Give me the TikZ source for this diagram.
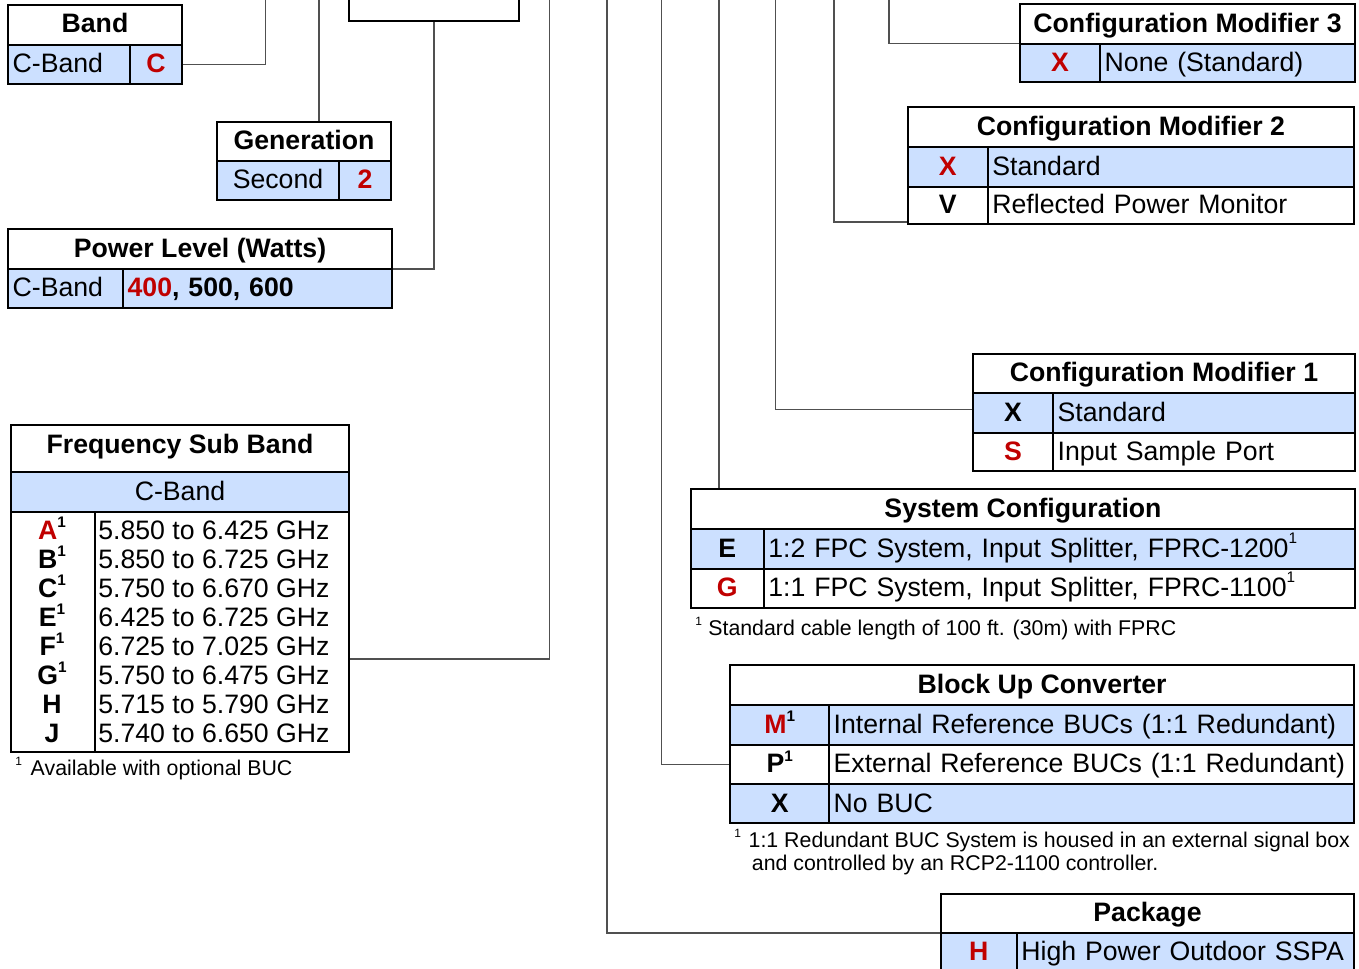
\documentclass[tikz,border=0pt]{standalone}
\usepackage{fontspec}
\setmainfont{Liberation Sans}
\definecolor{bluec}{RGB}{204,224,255}
\definecolor{redc}{RGB}{192,0,0}
\definecolor{connc}{RGB}{80,80,80}
\pgfdeclarelayer{background}
\pgfsetlayers{background,main}
\newcommand\supone{\raisebox{0.44em}{\fontsize{11.5}{13}\selectfont 1}}
\newcommand\supsys{\raisebox{0.52em}{\fontsize{11.5}{13}\selectfont 1}}
\newcommand\fnsup{\raisebox{0.46em}{\fontsize{9}{11}\selectfont 1}}
\tikzset{
  cellbase/.style={draw, line width=1.6pt, inner xsep=3.5pt, inner ysep=0pt, outer sep=0pt,
    text height=14.3pt, text depth=2pt, font=\fontsize{20}{24}\selectfont},
  hdr/.style={font=\fontsize{20}{24}\selectfont\bfseries},
  keyb/.style={font=\fontsize{20}{24}\selectfont\bfseries},
  redkey/.style={font=\fontsize{20}{24}\selectfont\bfseries, text=redc},
  bluefill/.style={fill=bluec},
  txt/.style={inner sep=0pt, font=\fontsize{20}{24}\selectfont},
  fn/.style={inner sep=0pt, font=\fontsize{16}{19}\selectfont},
  conn/.style={draw=connc, line width=1.1pt}
}
% name, x1, y1, x2, y2, options, text
\newcommand\cellC[7]{%
  \pgfmathsetmacro\cw{(#4-#2)*0.75}%
  \pgfmathsetmacro\ch{(#5-#3)*0.75}%
  \node[cellbase, minimum width=\cw pt, minimum height=\ch pt, anchor=north west, #6] (#1) at (#2,#3) {#7};}
\newcommand\cellL[7]{%
  \pgfmathsetmacro\cw{(#4-#2)*0.75}%
  \pgfmathsetmacro\ch{(#5-#3)*0.75}%
  \pgfmathsetmacro\tw{(#4-#2)*0.75-7}%
  \node[cellbase, minimum width=\cw pt, minimum height=\ch pt, text width=\tw pt, align=left, anchor=north west, #6] (#1) at (#2,#3) {\mbox{#7}};}
\begin{document}
\begin{tikzpicture}[x=0.75pt,y=-0.75pt]
\useasboundingbox (0,0) rectangle (1359,968);
\clip (0,0) rectangle (1359,968);

% top box (cut off)
\cellC{topbox}{348.7}{-30}{519}{20.7}{}{}

% Band
\cellC{bandH}{8}{4.7}{182}{44.7}{hdr}{Band}
\cellL{bandN}{8}{44.7}{130}{84}{bluefill}{C-Band}
\cellC{bandC}{130}{44.7}{182}{84}{bluefill,redkey}{C}

% Generation
\cellC{genH}{217}{122}{391}{161}{hdr}{Generation}
\cellC{genN}{217}{161}{339}{200}{bluefill}{Second}
\cellC{genC}{339}{161}{391}{200}{bluefill,redkey}{2}

% Power Level
\cellC{powH}{8}{229}{392}{269}{hdr}{Power Level (Watts)}
\cellL{powN}{8}{269}{123}{308}{bluefill}{C-Band}
\cellL{powV}{123}{269}{392}{308}{bluefill,keyb}{\textcolor{redc}{400}, 500, 600}

% Frequency Sub Band
\cellC{fsbH}{11}{425}{349}{472}{hdr,text depth=6.75pt}{Frequency Sub Band}
\cellC{fsbB}{11}{472}{349}{512}{bluefill}{C-Band}
\cellC{fsbL}{11}{512}{95}{752}{}{}
\cellC{fsbF}{95}{512}{349}{752}{}{}
\node[txt, anchor=base, font=\fontsize{20}{24}\selectfont\bfseries] (fl1) at (52,539) {\textcolor{redc}{A}\supone};
\node[txt, anchor=base, font=\fontsize{20}{24}\selectfont\bfseries] (fl2) at (52,568.1) {B\supone};
\node[txt, anchor=base, font=\fontsize{20}{24}\selectfont\bfseries] (fl3) at (52,597.1) {C\supone};
\node[txt, anchor=base, font=\fontsize{20}{24}\selectfont\bfseries] (fl4) at (52,626.2) {E\supone};
\node[txt, anchor=base, font=\fontsize{20}{24}\selectfont\bfseries] (fl5) at (52,655.3) {F\supone};
\node[txt, anchor=base, font=\fontsize{20}{24}\selectfont\bfseries] (fl6) at (52,684.4) {G\supone};
\node[txt, anchor=base, font=\fontsize{20}{24}\selectfont\bfseries] (fl7) at (52,713.4) {H};
\node[txt, anchor=base, font=\fontsize{20}{24}\selectfont\bfseries] (fl8) at (52,742.5) {J};
\node[txt, anchor=base west] (ff1) at (98,539) {5.850 to 6.425 GHz};
\node[txt, anchor=base west] (ff2) at (98,568.1) {5.850 to 6.725 GHz};
\node[txt, anchor=base west] (ff3) at (98,597.1) {5.750 to 6.670 GHz};
\node[txt, anchor=base west] (ff4) at (98,626.2) {6.425 to 6.725 GHz};
\node[txt, anchor=base west] (ff5) at (98,655.3) {6.725 to 7.025 GHz};
\node[txt, anchor=base west] (ff6) at (98,684.4) {5.750 to 6.475 GHz};
\node[txt, anchor=base west] (ff7) at (98,713.4) {5.715 to 5.790 GHz};
\node[txt, anchor=base west] (ff8) at (98,742.5) {5.740 to 6.650 GHz};
\node[fn, anchor=base west] (fsbNote) at (15,775) {\fnsup\hspace{6.6pt}Available with optional BUC};

% Configuration Modifier 3
\cellC{cm3H}{1020}{4.3}{1355}{43.7}{hdr}{Configuration Modifier 3}
\cellC{cm3K}{1020}{43.7}{1100}{82.3}{bluefill,redkey}{X}
\cellL{cm3T}{1100}{43.7}{1355}{82.3}{bluefill}{None (Standard)}

% Configuration Modifier 2
\cellC{cm2H}{907.7}{107.3}{1354}{147}{hdr}{Configuration Modifier 2}
\cellC{cm2X}{907.7}{147}{987.7}{186.7}{bluefill,redkey}{X}
\cellL{cm2S}{987.7}{147}{1354}{186.7}{bluefill}{Standard}
\cellC{cm2V}{907.7}{186.7}{987.7}{224.3}{keyb}{V}
\cellL{cm2R}{987.7}{186.7}{1354}{224.3}{}{Reflected Power Monitor}

% Configuration Modifier 1
\cellC{cm1H}{973}{354}{1355}{393.3}{hdr}{Configuration Modifier 1}
\cellC{cm1X}{973}{393.3}{1053}{432.7}{bluefill,keyb}{X}
\cellL{cm1S}{1053}{393.3}{1355}{432.7}{bluefill}{Standard}
\cellC{cm1K}{973}{432.7}{1053}{471}{redkey}{S}
\cellL{cm1I}{1053}{432.7}{1355}{471}{}{Input Sample Port}

% System Configuration
\cellC{sysH}{691}{489}{1355}{529}{hdr}{System Configuration}
\cellC{sysE}{691}{529}{763.7}{568.7}{bluefill,keyb}{E}
\cellL{sysET}{763.7}{529}{1355}{568.7}{bluefill}{1:2 FPC System, Input Splitter, FPRC-1200\supsys}
\cellC{sysG}{691}{568.7}{763.7}{608.3}{redkey}{G}
\cellL{sysGT}{763.7}{568.7}{1355}{608.3}{}{1:1 FPC System, Input Splitter, FPRC-1100\supsys}
\node[fn, anchor=base west] (sysNote) at (695,635) {\fnsup\hspace{4.8pt}Standard cable length of 100 ft. (30m) with FPRC};

% Block Up Converter
\cellC{bucH}{730.3}{665}{1354}{705}{hdr}{Block Up Converter}
\cellC{bucM}{730.3}{705}{829}{745}{bluefill,keyb}{\textcolor{redc}{M}\supone}
\cellL{bucMT}{829}{705}{1354}{745}{bluefill}{Internal Reference BUCs (1:1 Redundant)}
\cellC{bucP}{730.3}{745}{829}{784.3}{keyb}{P\supone}
\cellL{bucPT}{829}{745}{1354}{784.3}{}{External Reference BUCs (1:1 Redundant)}
\cellC{bucX}{730.3}{784.3}{829}{823.3}{bluefill,keyb}{X}
\cellL{bucXT}{829}{784.3}{1354}{823.3}{bluefill}{No BUC}
\node[fn, anchor=base west] (bucNote1) at (734,847) {\fnsup\hspace{5.8pt}1:1 Redundant BUC System is housed in an external signal box};
\node[fn, anchor=base west] (bucNote2) at (751.7,870) {and controlled by an RCP2-1100 controller.};

% Package
\cellC{pkgH}{941}{894}{1354}{933}{hdr}{Package}
\cellC{pkgK}{941}{933}{1016.7}{971}{bluefill,redkey}{H}
\cellL{pkgT}{1016.7}{933}{1354}{971}{bluefill}{High Power Outdoor SSPA}

% connectors
\coordinate (cBand) at (265.7,-5);
\coordinate (cGen) at (319,-5);
\coordinate (cPow) at (434,-5);
\coordinate (cFsb) at (549.7,-5);
\coordinate (cPkg) at (607,-5);
\coordinate (cBuc) at (661.5,-5);
\coordinate (cSys) at (719,-5);
\coordinate (cCm1) at (775.6,-5);
\coordinate (cCm2) at (834,-5);
\coordinate (cCm3) at (889,-5);
\begin{pgfonlayer}{background}
\draw[conn] (cBand) |- (bandC.east);
\draw[conn] (cGen) -- (cGen |- genH.north);
\draw[conn] (topbox.south -| cPow) |- (powH.south east);
\draw[conn] (cFsb) |- (fsbF.east |- 0,659);
\draw[conn] (cPkg) |- (pkgH.south west);
\draw[conn] (cBuc) |- (bucP.west);
\draw[conn] (cSys) -- (cSys |- sysH.north);
\draw[conn] (cCm1) |- (cm1X.west |- 0,409.3);
\draw[conn] (cCm2) |- (cm2V.west |- 0,222);
\draw[conn] (cCm3) |- (cm3H.south west);
\end{pgfonlayer}
\end{tikzpicture}
\end{document}
